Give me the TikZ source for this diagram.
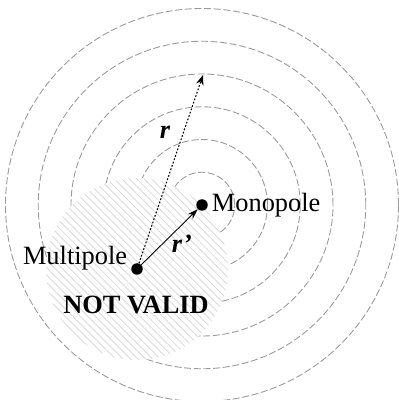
\documentclass[tikz,border=0pt]{standalone}
\usepackage{fontspec}
\setmainfont{Liberation Serif}
\usepackage{tikz}
\usetikzlibrary{arrows.meta,patterns.meta}
\tikzset{
  ring/.style={draw=gray!80, line width=0.5pt, dash pattern=on 4pt off 1.5pt},
  pole/.style={circle, fill=black, inner sep=0pt, minimum size=2.3mm},
  lbl/.style={font=\fontsize{15}{18}\selectfont, inner sep=1pt},
  >=Stealth
}

\begin{document}
\begin{tikzpicture}[x=0.2mm, y=0.2mm]
  \useasboundingbox (0,0) rectangle (399,400);
  % rings around the monopole
  \foreach \k in {1,...,6}
    \draw[ring] (202,195) circle (32.75*\k);
  % region where the expansion fails
  \fill[white] (137,131) circle (91);
  \fill[pattern={Lines[angle=-45, distance=3pt, line width=0.5pt]}, pattern color=gray!28] (137,131) circle (91);
  \node[pole] (mono) at (202,195) {};
  \node[pole] (multi) at (137,131) {};
  \coordinate (rtip) at (203,325);
  \node[lbl, anchor=west] (monol) at ([xshift=1pt]mono.east) {Monopole};
  \node[lbl, anchor=east] (multil) at ([xshift=-1pt, yshift=6pt]multi.west) {Multipole};
  \node[lbl, font=\fontsize{15}{18}\selectfont\bfseries] (nv) at (136,95) {NOT VALID};
  % distances
  \draw[->, line width=0.6pt, dash pattern=on 1pt off 1pt] (multi) -- (rtip);
  \draw[-{Stealth[length=6pt, width=4pt]}, line width=0.5pt] (multi) -- (mono);
  \node[lbl, font=\fontsize{15}{18}\selectfont\bfseries\itshape] (rl) at (165,268) {r};
  \node[lbl, font=\fontsize{15}{18}\selectfont\bfseries\itshape] (rpl) at (182,156) {r'};
\end{tikzpicture}
\end{document}
